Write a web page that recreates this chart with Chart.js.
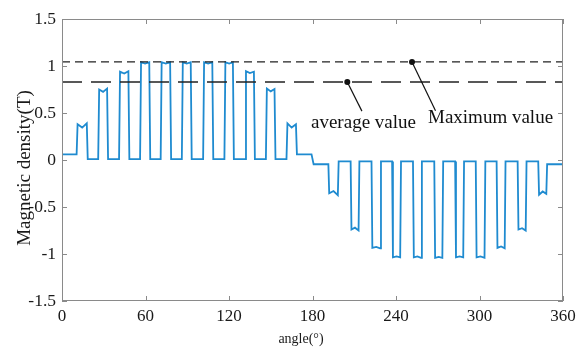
<!DOCTYPE html>
<html>
<head>
<meta charset="utf-8">
<script src="https://cdn.jsdelivr.net/npm/chart.js@4.4.1/dist/chart.umd.min.js"></script>
<style>
  html, body { margin: 0; padding: 0; background: #fff; }
  canvas { display: block; }
</style>
</head>
<body>
<canvas id="fluxChart" width="576" height="349"></canvas>
<script>
// datos: angulo (grados) y densidad magnetica (T)
const angleDeg = [
  0, 10.5, 11.2, 14.5, 17.8, 18.5,
  26.0, 26.7, 29.5, 32.4, 33.1,
  41.0, 41.7, 44.7, 47.7, 48.4,
  56.1, 56.8, 59.7, 62.7, 63.4,
  70.9, 71.6, 74.6, 77.7, 78.4,
  86.1, 86.8, 89.6, 92.5, 93.2,
  101.4, 102.1, 105.0, 108.0, 108.7,
  116.7, 117.4, 120.1, 122.8, 123.5,
  131.5, 132.2, 135.0, 137.9, 138.6,
  146.5, 147.2, 150.0, 152.7, 153.4,
  161.3, 162.0, 165.0, 168.1, 168.8,
  179.3, 180.8,
  191.4, 192.0, 195.1, 198.2, 198.8,
  207.4, 208.0, 210.5, 213.1, 213.7,
  222.4, 223.0, 225.8, 228.6, 229.2,
  237.2, 237.8, 240.4, 243.0, 243.6,
  252.2, 252.8, 255.4, 258.0, 258.6,
  267.5, 268.1, 270.7, 273.3, 273.9,
  282.5, 283.1, 285.7, 288.3, 288.9,
  297.3, 297.9, 300.7, 303.6, 304.2,
  312.3, 312.9, 315.5, 318.1, 318.7,
  327.4, 328.0, 330.6, 333.2, 333.8,
  342.2, 342.8, 345.4, 348.0, 348.6,
  360
];
const fluxT = [
  0.06, 0.06, 0.38, 0.345, 0.39, 0.01,
  0.01, 0.75, 0.725, 0.76, 0.01,
  0.01, 0.94, 0.92, 0.945, 0.01,
  0.01, 1.04, 1.025, 1.04, 0.01,
  0.01, 1.04, 1.025, 1.04, 0.01,
  0.01, 1.04, 1.025, 1.04, 0.01,
  0.01, 1.04, 1.025, 1.04, 0.01,
  0.01, 1.04, 1.025, 1.04, 0.01,
  0.01, 0.945, 0.925, 0.94, 0.01,
  0.01, 0.76, 0.73, 0.755, 0.01,
  0.01, 0.39, 0.345, 0.38, 0.06,
  0.06, -0.045,
  -0.045, -0.355, -0.33, -0.375, -0.015,
  -0.015, -0.74, -0.72, -0.75, -0.015,
  -0.015, -0.935, -0.925, -0.94, -0.015,
  -0.015, -1.035, -1.025, -1.035, -0.015,
  -0.015, -1.035, -1.025, -1.04, -0.015,
  -0.015, -1.04, -1.03, -1.04, -0.015,
  -0.015, -1.035, -1.025, -1.035, -0.015,
  -0.015, -1.035, -1.025, -1.04, -0.015,
  -0.015, -0.935, -0.92, -0.94, -0.015,
  -0.015, -0.74, -0.725, -0.75, -0.015,
  -0.015, -0.37, -0.335, -0.36, -0.045,
  -0.045
];
const maxValue = 1.043;
const avgValue = 0.83;
const xTicks = [0, 60, 120, 180, 240, 300, 360];
const yTicks = [-1.5, -1, -0.5, 0, 0.5, 1, 1.5];
// flechas de las anotaciones: [angulo punto, valor punto, angulo fin, valor fin]
const avgArrow = [205, avgValue, 215.5, 0.52];
const maxArrow = [251.5, maxValue, 268.4, 0.525];

const serif = "'Liberation Serif', 'Times New Roman', serif";

const boxPlugin = {
  id: 'boxPlugin',
  afterDatasetsDraw(chart) {
    const { ctx, chartArea: a, scales: { x, y } } = chart;
    ctx.save();
    // marco y marcas hacia dentro
    ctx.strokeStyle = '#8a8a8a';
    ctx.lineWidth = 1;
    ctx.strokeRect(a.left + 0.5, a.top + 0.5, a.right - a.left - 1, a.bottom - a.top - 1);
    ctx.beginPath();
    xTicks.forEach(v => {
      const px = Math.round(x.getPixelForValue(v)) + 0.5;
      ctx.moveTo(px, a.bottom); ctx.lineTo(px, a.bottom - 5);
      ctx.moveTo(px, a.top); ctx.lineTo(px, a.top + 5);
    });
    yTicks.forEach(v => {
      const py = Math.round(y.getPixelForValue(v)) + 0.5;
      ctx.moveTo(a.left, py); ctx.lineTo(a.left + 5, py);
      ctx.moveTo(a.right, py); ctx.lineTo(a.right - 5, py);
    });
    ctx.stroke();

    // anotaciones
    ctx.strokeStyle = '#111';
    ctx.fillStyle = '#111';
    ctx.lineWidth = 1.2;
    [avgArrow, maxArrow].forEach(arr => {
      const x0 = x.getPixelForValue(arr[0]), y0 = y.getPixelForValue(arr[1]);
      const x1 = x.getPixelForValue(arr[2]), y1 = y.getPixelForValue(arr[3]);
      ctx.beginPath(); ctx.moveTo(x0, y0); ctx.lineTo(x1, y1); ctx.stroke();
      ctx.beginPath(); ctx.arc(x0, y0, 3, 0, Math.PI * 2); ctx.fill();
    });
    ctx.font = '19px ' + serif;
    ctx.textBaseline = 'alphabetic';
    ctx.textAlign = 'left';
    ctx.fillText('average value', 311, 128);
    ctx.fillText('Maximum value', 428, 123);

    // titulos de ejes
    ctx.fillStyle = '#1a1a1a';
    ctx.font = '14px ' + serif;
    ctx.textAlign = 'center';
    ctx.textBaseline = 'middle';
    ctx.fillText('angle(°)', 301, 339);
    ctx.save();
    ctx.translate(25, 168);
    ctx.rotate(-Math.PI / 2);
    ctx.font = '19px ' + serif;
    ctx.fillText('Magnetic density(T)', 0, 0);
    ctx.restore();
    ctx.restore();
  }
};

new Chart(document.getElementById('fluxChart'), {
  type: 'line',
  data: {
    datasets: [
      {
        label: 'Maximum value',
        data: [{ x: 0, y: maxValue }, { x: 360, y: maxValue }],
        borderColor: '#222',
        borderWidth: 1.3,
        borderDash: [8, 5],
        pointRadius: 0,
        order: 0
      },
      {
        label: 'average value',
        data: [{ x: 0, y: avgValue }, { x: 360, y: avgValue }],
        borderColor: '#222',
        borderWidth: 1.3,
        borderDash: [20, 9],
        pointRadius: 0,
        order: 0
      },
      {
        label: 'B',
        data: angleDeg.map((a, i) => ({ x: a, y: fluxT[i] })),
        borderColor: '#1f8bd0',
        borderWidth: 1.8,
        pointRadius: 0,
        tension: 0,
        order: 1
      }
    ]
  },
  options: {
    responsive: false,
    animation: false,
    devicePixelRatio: 1,
    layout: { padding: { top: 19, right: 13, left: 0, bottom: 0 } },
    plugins: { legend: { display: false }, tooltip: { enabled: false } },
    scales: {
      x: {
        type: 'linear',
        min: 0,
        max: 360,
        grid: { display: false, drawTicks: false },
        border: { display: false },
        ticks: {
          stepSize: 60,
          autoSkip: false,
          maxRotation: 0,
          padding: 5,
          color: '#1a1a1a',
          font: { family: serif, size: 17 }
        },
        afterFit(s) { s.height = 48; s.paddingLeft = 0; s.paddingRight = 0; }
      },
      y: {
        min: -1.5,
        max: 1.5,
        grid: { display: false, drawTicks: false },
        border: { display: false },
        ticks: {
          stepSize: 0.5,
          padding: 6,
          color: '#1a1a1a',
          font: { family: serif, size: 17.5 },
          callback: v => String(v)
        },
        afterFit(s) { s.width = 62; s.paddingTop = 0; s.paddingBottom = 0; }
      }
    }
  },
  plugins: [boxPlugin]
});
</script>
</body>
</html>
